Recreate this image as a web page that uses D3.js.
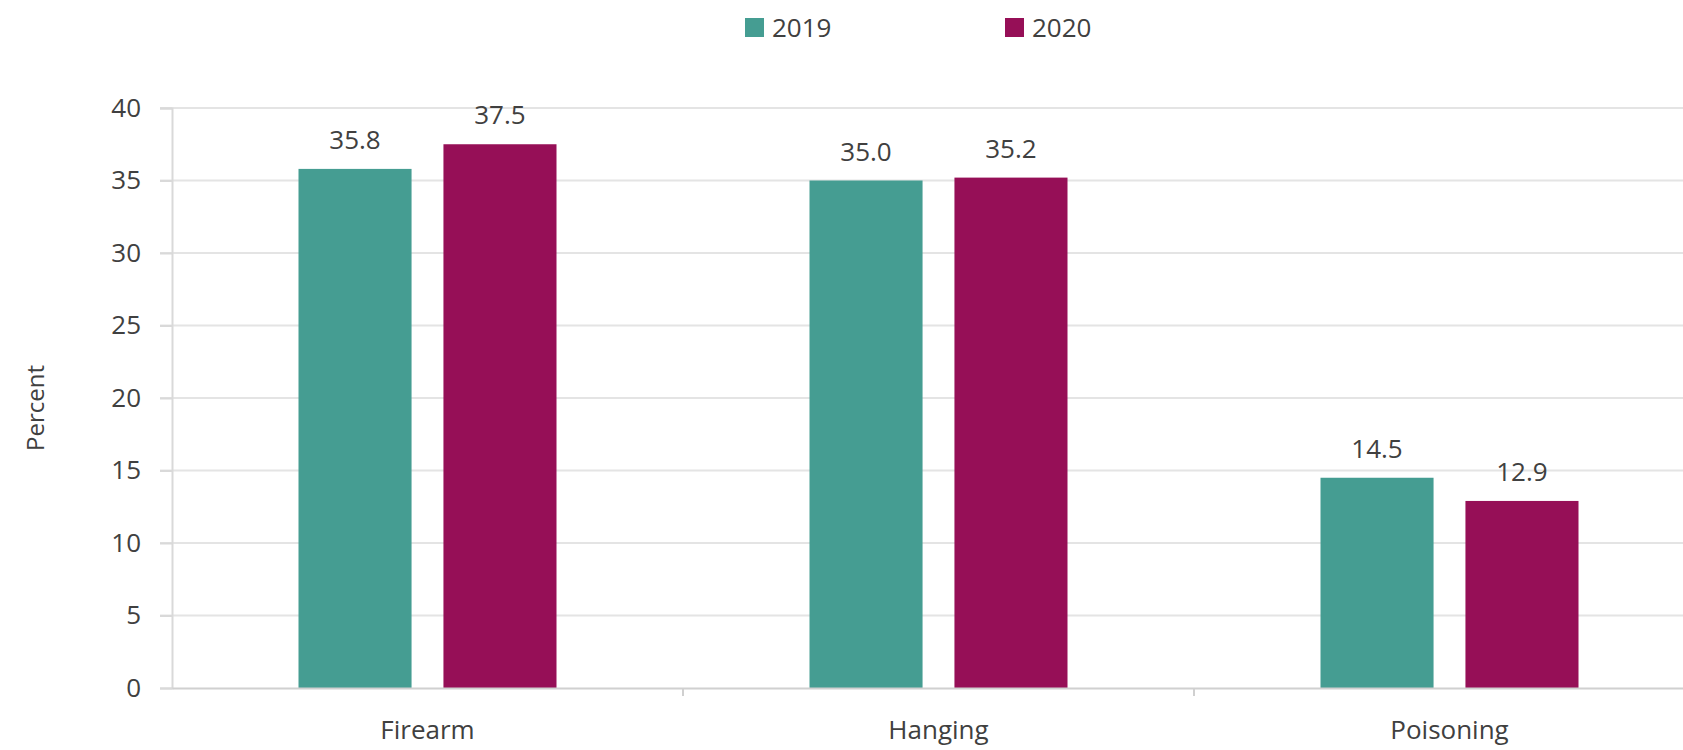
<!DOCTYPE html>
<html>
<head>
<meta charset="utf-8">
<script src="https://cdn.jsdelivr.net/npm/d3@7"></script>
<style>
  body { margin: 0; background: #fff; overflow: hidden; }
  svg text { font-family: "Open Sans", "Noto Sans", sans-serif; fill: #404040; }
</style>
</head>
<body>
<div id="chart"></div>
<script>
const categories = ['Firearm', 'Hanging', 'Poisoning'];
const years = ['2019', '2020'];
const values2019 = [35.8, 35.0, 14.5];
const values2020 = [37.5, 35.2, 12.9];
const yTicks = [0, 5, 10, 15, 20, 25, 30, 35, 40];
const colors = ['#459d92', '#960f57'];

const width = 1683;
const height = 750;
const plotLeft = 172, plotRight = 1705, plotTop = 108, plotBottom = 688;
const fontSize = '26px';

const rows = categories.map((c, i) => ({cat: c, vals: [values2019[i], values2020[i]]}));

const svg = d3.select('#chart').append('svg')
    .attr('width', width)
    .attr('height', height);

const x0 = d3.scaleBand()
    .domain(categories)
    .range([plotLeft, plotRight]);

const x1 = d3.scaleBand()
    .domain(years)
    .range([0, 258])
    .paddingInner(0.22);

const y = d3.scaleLinear()
    .domain([0, 40])
    .range([plotBottom, plotTop]);

// gridlines
svg.append('g')
   .selectAll('line')
   .data(yTicks.filter(d => d > 0))
   .enter()
   .append('line')
   .attr('x1', plotLeft - 12)
   .attr('x2', plotRight)
   .attr('y1', d => y(d))
   .attr('y2', d => y(d))
   .attr('stroke', '#e4e4e4')
   .attr('stroke-width', 2);

// y axis
const yAxis = svg.append('g')
   .attr('transform', `translate(${plotLeft},0)`)
   .call(d3.axisLeft(y).tickValues(yTicks).tickSize(12).tickPadding(19));
yAxis.select('.domain').attr('stroke', '#d9d9d9').attr('stroke-width', 2);
yAxis.selectAll('.tick line').attr('stroke', '#d9d9d9').attr('stroke-width', 2);
yAxis.selectAll('.tick text').style('font-size', fontSize).attr('fill', '#404040');

// bars
const groups = svg.append('g')
   .selectAll('g')
   .data(rows)
   .enter()
   .append('g')
   .attr('transform', d => `translate(${x0(d.cat) + (x0.bandwidth() - 258) / 2},0)`);

groups.selectAll('rect')
   .data(d => d.vals.map((v, j) => ({year: years[j], v, j})))
   .enter()
   .append('rect')
   .attr('x', d => x1(d.year))
   .attr('y', d => y(d.v))
   .attr('width', x1.bandwidth())
   .attr('height', d => y(0) - y(d.v))
   .attr('fill', d => colors[d.j]);

groups.selectAll('text')
   .data(d => d.vals.map((v, j) => ({year: years[j], v, j})))
   .enter()
   .append('text')
   .attr('x', d => x1(d.year) + x1.bandwidth() / 2)
   .attr('y', d => y(d.v) - 20)
   .attr('text-anchor', 'middle')
   .style('font-size', fontSize)
   .text(d => d.v.toFixed(1));

// x axis
const xAxis = svg.append('g')
   .attr('transform', `translate(0,${plotBottom})`)
   .call(d3.axisBottom(x0).tickSize(0).tickPadding(33));
xAxis.select('.domain').attr('stroke', '#d0d0d0').attr('stroke-width', 2);
xAxis.selectAll('.tick text').style('font-size', fontSize).attr('fill', '#404040');

svg.append('g')
   .selectAll('line')
   .data(categories.slice(1))
   .enter()
   .append('line')
   .attr('x1', d => x0(d))
   .attr('x2', d => x0(d))
   .attr('y1', plotBottom)
   .attr('y2', plotBottom + 8)
   .attr('stroke', '#d0d0d0')
   .attr('stroke-width', 2);

// y title
svg.append('text')
   .attr('transform', 'translate(44,408) rotate(-90)')
   .attr('text-anchor', 'middle')
   .style('font-size', '24px')
   .text('Percent');

// legend
const legend = svg.append('g')
   .selectAll('g')
   .data(years)
   .enter()
   .append('g')
   .attr('transform', (d, i) => `translate(${745 + i * 260},18)`);

legend.append('rect')
   .attr('width', 19)
   .attr('height', 19)
   .attr('fill', (d, i) => colors[i]);

legend.append('text')
   .attr('x', 27)
   .attr('y', 19)
   .style('font-size', fontSize)
   .text(d => d);
</script>
</body>
</html>
